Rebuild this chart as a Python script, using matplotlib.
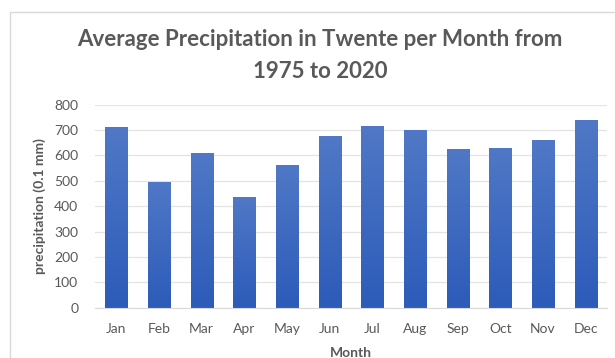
import matplotlib
matplotlib.use("Agg")
import matplotlib.pyplot as plt
import numpy as np
from matplotlib.patches import Rectangle

months = ["Jan", "Feb", "Mar", "Apr", "May", "Jun",
          "Jul", "Aug", "Sep", "Oct", "Nov", "Dec"]
precip = [711, 497, 611, 435, 564, 677, 718, 699, 627, 631, 662, 738]
yticks = [0, 100, 200, 300, 400, 500, 600, 700, 800]

TEXT = "#595959"
plt.rcParams["font.family"] = ["Lato", "DejaVu Sans"]

fig = plt.figure(figsize=(6.15, 3.58), dpi=100)
fig.patches.append(Rectangle((10 / 615, -0.1), 1.2, 1 - 12 / 358 + 0.1,
                             transform=fig.transFigure, fill=False,
                             edgecolor="#d9d9d9", lw=1.0))

ax = fig.add_axes([95 / 615, 1 - 307.7 / 358, 512 / 615, 203 / 358])
x = np.arange(len(months))
bars = ax.bar(x, precip, width=0.52, color="#3a66c0", zorder=2)

# vertical gradient per bar: lighter on top, darker at bottom
grad = np.linspace(0, 1, 256).reshape(-1, 1)
cmap = matplotlib.colors.LinearSegmentedColormap.from_list(
    "g", ["#2c5bb9", "#5078c6"])
for b in bars:
    b.set_facecolor("none")
    x0, w, h = b.get_x(), b.get_width(), b.get_height()
    im = ax.imshow(grad, cmap=cmap, aspect="auto", origin="lower",
                   extent=[x0, x0 + w, 0, h], zorder=2)
    im.set_clip_path(b)

ax.set_xlim(-0.5, len(months) - 0.5)
ax.set_ylim(0, 800)
ax.set_yticks(yticks)
ax.set_xticks(x)
ax.set_xticklabels(months)
ax.grid(axis="y", color="#e3e3e3", lw=0.9, zorder=0)
ax.set_axisbelow(True)
for s in ["top", "right", "left"]:
    ax.spines[s].set_visible(False)
ax.spines["bottom"].set_color("#d9d9d9")
ax.tick_params(length=0, colors=TEXT, labelsize=10)
ax.tick_params(axis="x", pad=11)
ax.tick_params(axis="y", pad=12)

ax.set_ylabel("precipitation (0.1 mm)", color=TEXT, fontsize=10,
              fontweight="bold", labelpad=6)
ax.set_xlabel("Month", color=TEXT, fontsize=10, fontweight="bold", labelpad=9)

fig.text(0.52, 1 - 40 / 358, "Average Precipitation in Twente per Month from",
         ha="center", va="center", fontsize=16, fontweight="bold", color=TEXT)
fig.text(0.52, 1 - 72 / 358, "1975 to 2020",
         ha="center", va="center", fontsize=16, fontweight="bold", color=TEXT)

fig.savefig("out.png", dpi=100)
